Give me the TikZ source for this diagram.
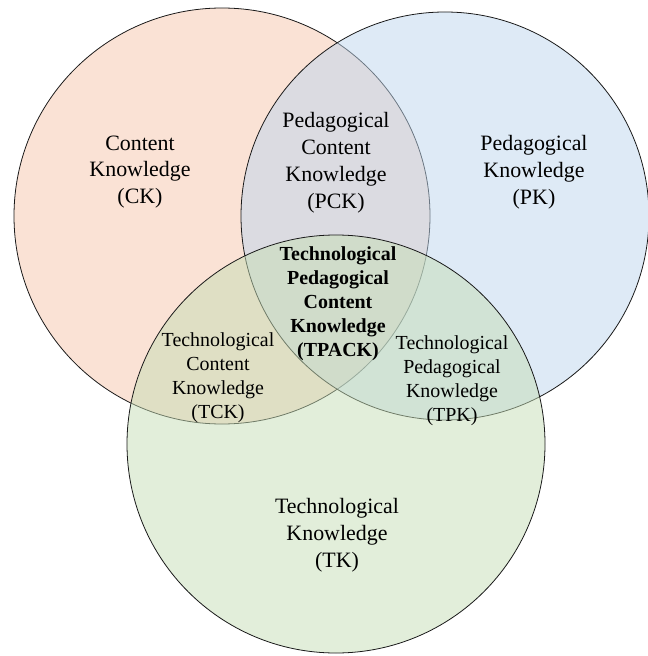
\documentclass[tikz,border=0pt]{standalone}
\usepackage{fontspec}
\setmainfont{Liberation Serif}
\usepackage{tikz}

\definecolor{ckfill}{RGB}{245,197,171}
\definecolor{pkfill}{RGB}{189,213,237}
\definecolor{tkfill}{RGB}{197,221,181}

\begin{document}
\begin{tikzpicture}[x=1bp, y=-1bp,
    ring/.style={circle, draw=black!90, line width=0.8pt, fill opacity=0.5, inner sep=0pt},
    mainlabel/.style={align=center, font=\fontsize{22}{27}\selectfont},
    sublabel/.style={align=center, font=\fontsize{20}{24}\selectfont}]
    \useasboundingbox (0,0) rectangle (648,656);
    \node [ring, fill=ckfill, minimum size=416bp] (ckring) at (222,216) {};
    \node [ring, fill=pkfill, minimum size=408bp] (pkring) at (445,216) {};
    \node [ring, fill=tkfill, minimum size=418bp] (tkring) at (336,444) {};

    \node [mainlabel] (ck) at (140,172) {Content\\Knowledge\\(CK)};
    \node [mainlabel] (pk) at (534,172) {Pedagogical\\Knowledge\\(PK)};
    \node [mainlabel] (pck) at (336,163) {Pedagogical\\Content\\Knowledge\\(PCK)};
    \node [mainlabel] (tk) at (337,535) {Technological\\Knowledge\\(TK)};
    \node [sublabel] (tck) at (218,378) {Technological\\Content\\Knowledge\\(TCK)};
    \node [sublabel] (tpk) at (452,381) {Technological\\Pedagogical\\Knowledge\\(TPK)};
    \node [sublabel, font=\fontsize{20}{24}\selectfont\bfseries] (tpack) at (338,304)
      {Technological\\Pedagogical\\Content\\Knowledge\\(TPACK)};
\end{tikzpicture}
\end{document}
